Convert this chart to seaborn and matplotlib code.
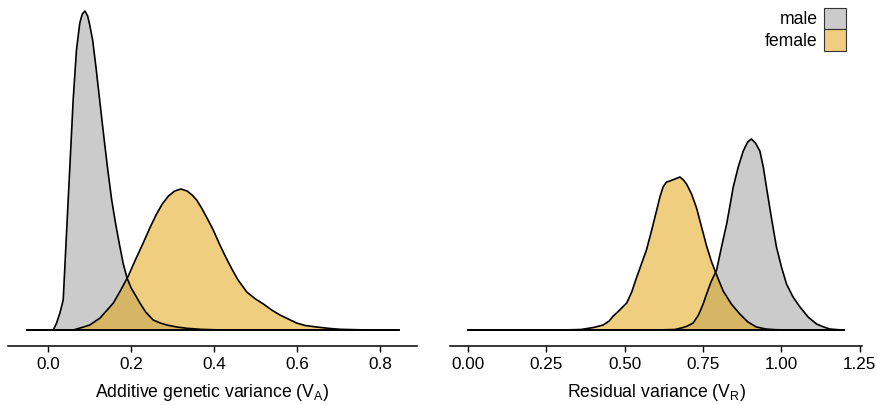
import pandas as pd
import seaborn as sns
import matplotlib.pyplot as plt
from matplotlib.patches import Patch

# posterior density curves, heights (arbitrary units)
# left panel: additive genetic variance V_A
va_male_x = [-0.052, 0.0, 0.012, 0.020, 0.028, 0.036, 0.044, 0.052, 0.060, 0.068, 0.076, 0.082,
             0.0885, 0.095, 0.100, 0.107, 0.115, 0.124, 0.133, 0.143, 0.153, 0.163, 0.172,
             0.181, 0.190, 0.200, 0.210, 0.221, 0.235, 0.253, 0.270, 0.286, 0.310, 0.334,
             0.370, 0.420, 0.846]
va_male_y = [0, 0, 0, 7, 17, 30, 97, 163, 230, 280, 307, 316,
             319, 314, 305, 290, 263, 230, 197, 162, 130, 105, 85,
             66, 52, 42, 35, 27, 18, 10, 7, 5, 3, 1.7,
             0.6, 0, 0]
va_female_x = [-0.052, 0.060, 0.085, 0.100, 0.125, 0.157, 0.175, 0.193, 0.210, 0.229, 0.245,
               0.260, 0.275, 0.290, 0.305, 0.320, 0.335, 0.347, 0.358, 0.370, 0.383, 0.398,
               0.413, 0.428, 0.443, 0.458, 0.479, 0.500, 0.519, 0.539, 0.559, 0.579, 0.599,
               0.620, 0.647, 0.680, 0.704, 0.750, 0.800, 0.846]
va_female_y = [0, 0, 3, 5, 12, 27, 40, 54, 70, 87, 102,
               115, 126, 134, 139, 141, 139, 135, 130, 122, 112, 100,
               86, 73, 61, 50, 38, 31, 26, 20, 15, 11, 7,
               4.5, 3, 1.5, 0.7, 0.2, 0, 0]

# right panel: residual variance V_R
vr_male_x = [0.0, 0.600, 0.660, 0.686, 0.700, 0.718, 0.735, 0.750, 0.761, 0.775, 0.793, 0.810,
             0.825, 0.836, 0.846, 0.862, 0.878, 0.892, 0.904, 0.917, 0.931, 0.942, 0.952,
             0.968, 0.984, 1.000, 1.016, 1.037, 1.059, 1.085, 1.112, 1.135, 1.154, 1.180, 1.200]
vr_male_y = [0, 0, 0.5, 2.5, 4, 7, 15, 26, 36, 48, 60, 85,
             106, 125, 143, 163, 179, 188, 191, 187, 179, 163, 143,
             112, 83, 63, 46, 33, 23, 13, 6, 3, 1, 0.3, 0]
vr_female_x = [0.0, 0.300, 0.360, 0.400, 0.431, 0.450, 0.463, 0.474, 0.490, 0.506, 0.522, 0.537,
               0.553, 0.569, 0.585, 0.601, 0.612, 0.622, 0.633, 0.644, 0.660, 0.676, 0.687,
               0.697, 0.713, 0.729, 0.745, 0.761, 0.777, 0.793, 0.814, 0.840, 0.867, 0.893,
               0.920, 0.950, 0.980, 1.020, 1.200]
vr_female_y = [0, 0, 0.5, 2.5, 5, 9, 14, 17, 22, 27, 38, 52,
               66, 80, 99, 119, 133, 143, 148, 149, 151, 153, 150,
               146, 136, 122, 103, 84, 68, 55, 39, 26, 16, 8,
               3, 1, 0.3, 0, 0]

va_ticks = [0.0, 0.2, 0.4, 0.6, 0.8]
va_ticklabels = ["0.0", "0.2", "0.4", "0.6", "0.8"]
vr_ticks = [0.0, 0.25, 0.5, 0.75, 1.0, 1.25]
vr_ticklabels = ["0.00", "0.25", "0.50", "0.75", "1.00", "1.25"]

GREY = (0.6, 0.6, 0.6, 0.5)
GOLD = (225 / 255, 160 / 255, 0.0, 0.5)

sns.set_theme(style="white", rc={"text.color": "black", "axes.labelcolor": "black",
                                 "xtick.color": "black"})
plt.rcParams['font.family'] = ['Liberation Sans', 'DejaVu Sans']

W, H = 878, 405
fig = plt.figure(figsize=(W / 100, H / 100), dpi=100)
ax1 = fig.add_axes([8.3 / W, 1 - 345.7 / H, 408.4 / W, 340.7 / H])
ax2 = fig.add_axes([450 / W, 1 - 345.7 / H, 412.3 / W, 340.7 / H])


def density(ax, x, y, fill):
    ax.fill_between(x, y, 0, facecolor=fill, edgecolor='none', lw=0)
    sns.lineplot(x=x, y=y, ax=ax, color='black', lw=1.2, sort=False, estimator=None)
    sns.lineplot(x=[x[0], x[-1]], y=[0, 0], ax=ax, color='black', lw=1.2,
                 sort=False, estimator=None)


density(ax1, va_male_x, va_male_y, GREY)
density(ax1, va_female_x, va_female_y, GOLD)
density(ax2, vr_male_x, vr_male_y, GREY)
density(ax2, vr_female_x, vr_female_y, GOLD)

ax1.set_xlim(-0.0965, 0.889)
ax2.set_xlim(-0.058, 1.258)

for ax, ticks, labels, xlabel in [
        (ax1, va_ticks, va_ticklabels, 'Additive genetic variance (V$_\\mathregular{A}$)'),
        (ax2, vr_ticks, vr_ticklabels, 'Residual variance (V$_\\mathregular{R}$)')]:
    ax.set_ylim(-15.7, 325)
    ax.set_yticks([])
    ax.set_ylabel('')
    ax.set_xticks(ticks)
    ax.set_xticklabels(labels)
    ax.set_xlabel(xlabel, fontsize=12.7, labelpad=7)
    ax.tick_params(axis='x', bottom=True, direction='out', length=4, width=1,
                   pad=4, labelsize=12.3)
    for side in ['left', 'top', 'right']:
        ax.spines[side].set_visible(False)
    ax.spines['bottom'].set_color('black')
    ax.spines['bottom'].set_linewidth(1.1)

handles = [Patch(facecolor=GREY, edgecolor='#333333', lw=0.8, label='male'),
           Patch(facecolor=GOLD, edgecolor='#333333', lw=0.8, label='female')]
fig.legend(handles=handles, loc='upper right', bbox_to_anchor=(846.5 / W, 1 - 7.5 / H),
           bbox_transform=fig.transFigure, frameon=False, markerfirst=False,
           fontsize=12.7, handlelength=1.3, handleheight=1.5, handletextpad=0.34,
           labelspacing=0, borderpad=0, borderaxespad=0)

plt.savefig("out.png", dpi=100)
plt.close()
